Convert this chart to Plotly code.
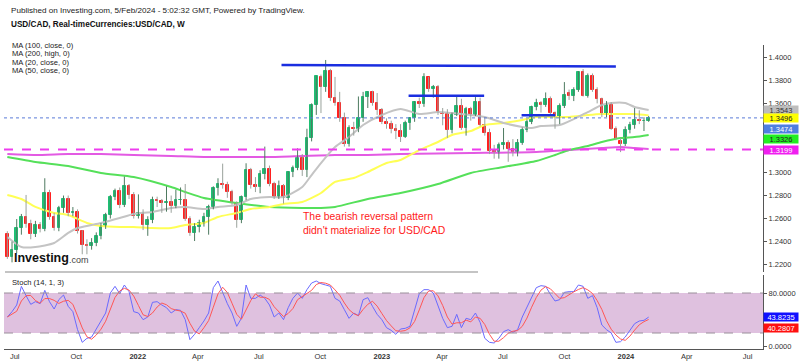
import pandas as pd
import plotly.graph_objects as go

# ---------------- data ----------------
week_start = "2021-06-20"
n_weeks = 138

opens = [1.2470,1.2265,1.2330,1.2520,1.2610,1.2550,1.2470,1.2545,1.2510,1.2820,
         1.2615,1.2520,1.2690,1.2770,1.2650,1.2655,1.2490,1.2370,1.2365,1.2390,
         1.2450,1.2535,1.2630,1.2785,1.2840,1.2720,1.2885,1.2805,1.2625,1.2650,
         1.2545,1.2585,1.2760,1.2755,1.2735,1.2745,1.2705,1.2760,1.2765,1.2600,
         1.2475,1.2525,1.2560,1.2615,1.2700,1.2865,1.2900,1.2895,1.2830,1.2735,
         1.2590,1.2785,1.3020,1.2890,1.2870,1.2990,1.3030,1.2900,1.2790,1.2880,
         1.2775,1.3000,1.3040,1.3130,1.3020,1.3300,1.3585,1.3830,1.3745,1.3880,
         1.3650,1.3605,1.3475,1.3245,1.3385,1.3375,1.3475,1.3655,1.3700,1.3605,
         1.3545,1.3440,1.3420,1.3375,1.3360,1.3310,1.3430,1.3470,1.3610,1.3595,
         1.3825,1.3725,1.3740,1.3515,1.3505,1.3370,1.3500,1.3580,1.3390,1.3550,
         1.3500,1.3610,1.3410,1.3340,1.3190,1.3175,1.3240,1.3260,1.3200,1.3180,
         1.3255,1.3370,1.3440,1.3570,1.3600,1.3590,1.3640,1.3515,1.3480,1.3580,
         1.3690,1.3665,1.3720,1.3870,1.3665,1.3840,1.3720,1.3640,1.3500,1.3590,
         1.3380,1.3275,1.3250,1.3370,1.3415,1.3455,1.3445,1.3445]
highs = [1.2490,1.2400,1.2596,1.2640,1.2805,1.2590,1.2580,1.2570,1.2950,1.2850,
         1.2650,1.2710,1.2800,1.2800,1.2700,1.2680,1.2500,1.2420,1.2430,1.2480,
         1.2560,1.2650,1.2805,1.2860,1.2870,1.2965,1.2900,1.2830,1.2810,1.2680,
         1.2620,1.2790,1.2790,1.2770,1.2880,1.2800,1.2850,1.2870,1.2900,1.2620,
         1.2560,1.2590,1.2650,1.2720,1.2880,1.2950,1.3077,1.2920,1.2850,1.2750,
         1.2800,1.3080,1.3040,1.2960,1.3020,1.3225,1.3060,1.2920,1.2930,1.2900,
         1.3010,1.3060,1.3210,1.3160,1.3380,1.3600,1.3840,1.3850,1.3977,1.3900,
         1.3830,1.3700,1.3520,1.3410,1.3440,1.3660,1.3700,1.3705,1.3710,1.3690,
         1.3560,1.3470,1.3450,1.3420,1.3420,1.3450,1.3480,1.3620,1.3650,1.3862,
         1.3830,1.3760,1.3760,1.3560,1.3550,1.3520,1.3668,1.3640,1.3570,1.3570,
         1.3655,1.3650,1.3480,1.3380,1.3240,1.3260,1.3386,1.3280,1.3290,1.3290,
         1.3390,1.3460,1.3580,1.3640,1.3620,1.3695,1.3660,1.3530,1.3600,1.3785,
         1.3720,1.3740,1.3880,1.3898,1.3860,1.3860,1.3740,1.3650,1.3620,1.3610,
         1.3400,1.3300,1.3400,1.3440,1.3560,1.3540,1.3480,1.3490]
lows = [1.2250,1.2220,1.2300,1.2460,1.2520,1.2420,1.2440,1.2480,1.2490,1.2590,
        1.2495,1.2490,1.2650,1.2620,1.2620,1.2470,1.2290,1.2290,1.2330,1.2360,
        1.2420,1.2510,1.2600,1.2760,1.2690,1.2700,1.2770,1.2600,1.2600,1.2500,
        1.2450,1.2560,1.2700,1.2650,1.2660,1.2650,1.2690,1.2720,1.2580,1.2450,
        1.2405,1.2480,1.2530,1.2460,1.2680,1.2800,1.2860,1.2780,1.2720,1.2520,
        1.2560,1.2760,1.2860,1.2830,1.2820,1.2940,1.2880,1.2770,1.2770,1.2730,
        1.2760,1.2960,1.3020,1.2970,1.2960,1.3270,1.3500,1.3516,1.3700,1.3620,
        1.3580,1.3440,1.3225,1.3225,1.3320,1.3350,1.3440,1.3560,1.3580,1.3500,
        1.3420,1.3380,1.3340,1.3290,1.3265,1.3300,1.3370,1.3440,1.3560,1.3570,
        1.3700,1.3650,1.3500,1.3410,1.3300,1.3340,1.3490,1.3370,1.3320,1.3450,
        1.3490,1.3400,1.3320,1.3160,1.3120,1.3120,1.3200,1.3093,1.3140,1.3140,
        1.3240,1.3350,1.3420,1.3540,1.3520,1.3570,1.3500,1.3380,1.3420,1.3560,
        1.3630,1.3620,1.3700,1.3660,1.3650,1.3700,1.3600,1.3480,1.3480,1.3370,
        1.3280,1.3177,1.3230,1.3340,1.3380,1.3420,1.3360,1.3440]
closes = [1.2265,1.2330,1.2520,1.2610,1.2550,1.2470,1.2545,1.2510,1.2820,1.2615,
          1.2520,1.2690,1.2770,1.2650,1.2655,1.2490,1.2370,1.2365,1.2390,1.2450,
          1.2535,1.2630,1.2785,1.2840,1.2720,1.2885,1.2805,1.2625,1.2650,1.2545,
          1.2585,1.2760,1.2755,1.2735,1.2745,1.2705,1.2760,1.2765,1.2600,1.2475,
          1.2525,1.2560,1.2615,1.2700,1.2865,1.2900,1.2895,1.2830,1.2735,1.2590,
          1.2785,1.3020,1.2890,1.2870,1.2990,1.3030,1.2900,1.2790,1.2880,1.2775,
          1.3000,1.3040,1.3130,1.3020,1.3300,1.3585,1.3835,1.3745,1.3880,1.3650,
          1.3605,1.3475,1.3245,1.3385,1.3375,1.3475,1.3655,1.3700,1.3605,1.3545,
          1.3440,1.3420,1.3375,1.3360,1.3310,1.3430,1.3470,1.3610,1.3595,1.3825,
          1.3725,1.3740,1.3515,1.3505,1.3370,1.3500,1.3580,1.3390,1.3550,1.3500,
          1.3610,1.3410,1.3340,1.3190,1.3175,1.3240,1.3260,1.3200,1.3180,1.3255,
          1.3370,1.3440,1.3570,1.3600,1.3590,1.3640,1.3515,1.3480,1.3580,1.3670,
          1.3665,1.3720,1.3870,1.3665,1.3840,1.3720,1.3640,1.3500,1.3590,1.3380,
          1.3290,1.3250,1.3370,1.3415,1.3455,1.3445,1.3445,1.3474]

# moving averages (week index -> value)
ma20_idx = [0,3,6,10,13,15,18,20,24,27,31,35,38,42,45,49,52,56,59,63,65,67,70,73,76,80,84,88,92,95,99,102,106,110,112,114,118,121,124,127,129,132,134,137]
ma20_val = [1.2440,1.2353,1.2353,1.2388,1.2475,1.2518,1.2544,1.2562,1.2605,1.2640,1.2657,1.2692,1.2701,1.2683,1.2701,1.2718,1.2770,1.2787,1.2787,1.2874,1.2978,1.3082,1.3221,1.3308,1.3412,1.3499,1.3551,1.3508,1.3525,1.3516,1.3499,1.3482,1.3430,1.3395,1.3386,1.3404,1.3412,1.3464,1.3525,1.3586,1.3603,1.3603,1.3569,1.3543]
ma50_idx = [0,3,6,10,13,17,20,24,27,31,35,38,42,45,49,52,56,59,63,67,70,74,77,81,84,88,92,95,99,102,106,110,113,117,120,124,127,131,134,137]
ma50_val = [1.2805,1.2770,1.2701,1.2649,1.2631,1.2562,1.2536,1.2527,1.2527,1.2518,1.2518,1.2544,1.2562,1.2614,1.2649,1.2683,1.2701,1.2727,1.2744,1.2822,1.2918,1.2952,1.3004,1.3082,1.3109,1.3195,1.3265,1.3326,1.3360,1.3412,1.3430,1.3456,1.3482,1.3482,1.3482,1.3499,1.3508,1.3508,1.3508,1.3496]
ma100_idx = [0,6,13,20,27,35,38,42,49,56,63,67,70,77,84,92,99,106,113,117,120,124,127,131,134,137]
ma100_val = [1.3134,1.3091,1.3057,1.2996,1.2961,1.2874,1.2831,1.2779,1.2735,1.2701,1.2692,1.2692,1.2701,1.2770,1.2822,1.2900,1.2996,1.3048,1.3100,1.3152,1.3195,1.3230,1.3265,1.3300,1.3308,1.3326]
ma200_idx = [0,6,13,20,27,35,42,49,56,63,70,77,84,99,113,120,127,131,134,137]
ma200_val = [1.3160,1.3152,1.3160,1.3160,1.3152,1.3143,1.3134,1.3134,1.3134,1.3143,1.3152,1.3152,1.3160,1.3169,1.3178,1.3195,1.3212,1.3221,1.3212,1.3204]

stoch_k = [44,52,62,90,76,63,67,64,84,67,56,70,77,60,52,25,6,12,14,25,
           38,50,80,90,79,92,82,52,50,40,44,66,67,62,58,50,55,54,40,10,
           18,28,38,50,88,98,80,64,50,30,42,92,72,72,77,72,62,44,50,40,
           58,72,80,72,85,95,98,94,92,90,72,68,55,42,50,46,70,73,60,48,
           40,28,24,18,26,27,30,55,79,85,85,80,62,42,28,30,48,28,42,40,
           50,36,12,6,5,12,22,25,21,25,44,58,74,88,91,90,78,68,70,81,
           82,82,92,90,72,76,58,32,25,20,6,7,14,25,34,38,39.0186,43.8235]

support_level = 1.3199
label_values = {"ma20": 1.3543, "ma50": 1.3496, "last": 1.3474, "ma100": 1.3326, "ma200": 1.3199}
trend_lines = [  # (start date, end date, start level, end level)
    ("2022-08-04", "2023-12-17", 1.3933, 1.3920),
    ("2023-02-10", "2023-06-03", 1.3667, 1.3667),
    ("2023-07-29", "2023-09-17", 1.3497, 1.3497),
]
xtick_dates = ["2021-07-01","2021-10-01","2022-01-01","2022-04-01","2022-07-01","2022-10-01",
               "2023-01-01","2023-04-01","2023-07-01","2023-10-01","2024-01-01","2024-04-01","2024-07-01"]
xtick_text = ["Jul","Oct","<b>2022</b>","Apr","Jul","Oct","<b>2023</b>","Apr","Jul","Oct","<b>2024</b>","Apr","Jul"]
price_ticks = [1.22,1.24,1.26,1.28,1.30,1.36,1.38,1.40]

# ---------------- figure ----------------
FONT = "Liberation Sans, Arial, sans-serif"
W, H = 800, 364
ML, MR, MT, MB = 4, 37, 45, 15
PW, PH = W - ML - MR, H - MT - MB


def pxx(x):
    return (x - ML) / PW


def pyy(y):
    return (H - MB - y) / PH


dates = pd.date_range(week_start, periods=n_weeks, freq="7D")
df = pd.DataFrame({"o": opens, "h": highs, "l": lows, "c": closes}, index=dates)
k = pd.Series(stoch_k, index=dates)
d = k.rolling(3, min_periods=1).mean()

up = df[df.c >= df.o]
dn = df[df.c < df.o]

GREEN = "#1fbf74"
RED = "#ff2020"

fig = go.Figure()


def ma_trace(idx, val, color, width=2):
    return go.Scatter(x=dates[idx], y=val, mode="lines", yaxis="y",
                      line=dict(color=color, width=width, shape="spline", smoothing=0.6),
                      hoverinfo="skip", showlegend=False)


fig.add_trace(ma_trace(ma200_idx, ma200_val, "#e35ae3"))
fig.add_trace(ma_trace(ma100_idx, ma100_val, "#55e05a"))
fig.add_trace(ma_trace(ma50_idx, ma50_val, "#ffff55"))
fig.add_trace(ma_trace(ma20_idx, ma20_val, "#c4c4c4"))


def wick_xy(sub):
    xs, ys = [], []
    for dt, row in sub.iterrows():
        xs += [dt, dt, None]
        ys += [row.l, row.h, None]
    return xs, ys


for sub, col in ((up, "#4e7a60"), (dn, "#9aa29c")):
    xs, ys = wick_xy(sub)
    fig.add_trace(go.Scatter(x=xs, y=ys, mode="lines", line=dict(color=col, width=1),
                             yaxis="y", hoverinfo="skip", showlegend=False))

bw = 4.0 * 86400000
for sub, col in ((up, GREEN), (dn, RED)):
    base = sub[["o", "c"]].min(axis=1)
    height = (sub.c - sub.o).abs()
    fig.add_trace(go.Bar(x=sub.index, y=height, base=base, width=bw, yaxis="y",
                         marker=dict(color=col, line=dict(color=col, width=1)),
                         hoverinfo="skip", showlegend=False))

fig.add_trace(go.Scatter(x=dates, y=k, mode="lines", yaxis="y2",
                         line=dict(color="#6a6aff", width=1), showlegend=False, hoverinfo="skip"))
fig.add_trace(go.Scatter(x=dates, y=d, mode="lines", yaxis="y2",
                         line=dict(color="#ff5656", width=1), showlegend=False, hoverinfo="skip"))

shapes = []
shapes.append(dict(type="rect", xref="paper", x0=0, x1=1, yref="y2", y0=20, y1=80,
                   fillcolor="#dfc1df", line=dict(width=0), layer="below"))
for lvl in (20, 80):
    shapes.append(dict(type="line", xref="paper", x0=0, x1=1, yref="y2", y0=lvl, y1=lvl,
                       line=dict(color="#9a8f9a", width=1, dash="dash")))
shapes.append(dict(type="line", xref="paper", x0=0, x1=1, yref="y", y0=closes[-1], y1=closes[-1],
                   line=dict(color="#5a7bd8", width=1, dash="dot")))
shapes.append(dict(type="line", xref="paper", x0=0, x1=1, yref="y", y0=support_level, y1=support_level,
                   line=dict(color="#ee3cee", width=2, dash="dash")))
for x0, x1, y0, y1 in trend_lines:
    shapes.append(dict(type="line", xref="x", x0=x0, x1=x1, yref="y", y0=y0, y1=y1,
                       line=dict(color="#1a2ee0", width=2.5)))
shapes.append(dict(type="line", xref="paper", x0=pxx(5), x1=pxx(478), yref="paper",
                   y0=pyy(272), y1=pyy(272), line=dict(color="#b0b0b0", width=1.5)))

ann = []


def txt(text, x, y, size=9, color="#222", bold=False, anchor="left", family=FONT):
    ann.append(dict(text=("<b>%s</b>" % text) if bold else text, xref="paper", yref="paper",
                    x=pxx(x), y=pyy(y), xanchor=anchor, yanchor="middle", showarrow=False,
                    font=dict(family=family, size=size, color=color)))


txt("Published on Investing.com, 5/Feb/2024 - 5:02:32 GMT, Powered by TradingView.", 9, 11, 8.1)
txt("USD/CAD, Real-timeCurrencies:USD/CAD, W", 9, 25, 8.2, "#111", bold=True)
for j, s in enumerate(["MA (100, close, 0)", "MA (200, high, 0)", "MA (20, close, 0)", "MA (50, close, 0)"]):
    txt(s, 10, 45 + j * 8.5, 7.6)
txt("Stoch (14, 1, 3)", 10, 282, 7.6)
txt("Investing", 12, 257.5, 12.5, "#111", bold=True)
txt(".com", 67, 259.5, 9, "#444")

ann.append(dict(text="The bearish reversal pattern<br>didn't materialize for USD/CAD",
                xref="paper", yref="paper", x=pxx(301), y=pyy(223), xanchor="left", yanchor="middle",
                align="left", showarrow=False, font=dict(family=FONT, size=10.4, color="#ff1a1a")))


def box(val, yref, bg, fg, shift, fmt="%.4f"):
    ann.append(dict(text=fmt % val, xref="paper", x=1, xanchor="left", xshift=0,
                    yref=yref, y=val, yanchor="middle", yshift=shift, showarrow=False,
                    bgcolor=bg, width=34, height=8, borderpad=0,
                    font=dict(family=FONT, size=7.5, color=fg)))


box(label_values["ma20"], "y", "#bdbdbd", "#333", 0)
box(label_values["ma50"], "y", "#ffff00", "#222", -2.7)
box(label_values["last"], "y", "#4f7fe0", "#ffffff", -11)
box(label_values["ma100"], "y", "#22ee22", "#222", -4.5)
box(label_values["ma200"], "y", "#f01ef0", "#ffffff", 0)
box(stoch_k[-1], "y2", "#1010ff", "#ffffff", 0)
box(float(d.iloc[-1]), "y2", "#ff1010", "#ffffff", -8.5)

TICKFONT = dict(family=FONT, size=7.5, color="#333")
fig.update_layout(
    width=W, height=H, margin=dict(l=ML, r=MR, t=MT, b=MB, autoexpand=False),
    paper_bgcolor="white", plot_bgcolor="white", barmode="overlay", bargap=0,
    showlegend=False, shapes=shapes, annotations=ann,
    xaxis=dict(type="date", range=["2021-06-15", "2024-07-24"], anchor="y2", automargin=False,
               tickvals=xtick_dates, ticktext=xtick_text, showgrid=False, zeroline=False,
               showline=True, linecolor="#555", linewidth=1, ticks="", ticklen=0,
               tickfont=TICKFONT, rangeslider=dict(visible=False)),
    yaxis=dict(domain=[pyy(272), 1], range=[1.2136, 1.4107], side="right", anchor="x",
               automargin=False, tickvals=price_ticks, tickformat=".4f", showgrid=False,
               zeroline=False, showline=True, linecolor="#555", linewidth=1, ticks="outside",
               ticklen=3, tickcolor="#555", tickfont=TICKFONT),
    yaxis2=dict(domain=[0, pyy(275)], range=[-4, 107], side="right", anchor="x", automargin=False,
                tickvals=[0, 80], ticktext=["0.0000", "80.0000"], showgrid=False, zeroline=False,
                showline=True, linecolor="#555", linewidth=1, ticks="outside", ticklen=3,
                tickcolor="#555", tickfont=TICKFONT),
)

fig.write_html("out.html", config={"displayModeBar": False},
               post_script="document.body.style.margin='0px';document.body.style.padding='0px';")
